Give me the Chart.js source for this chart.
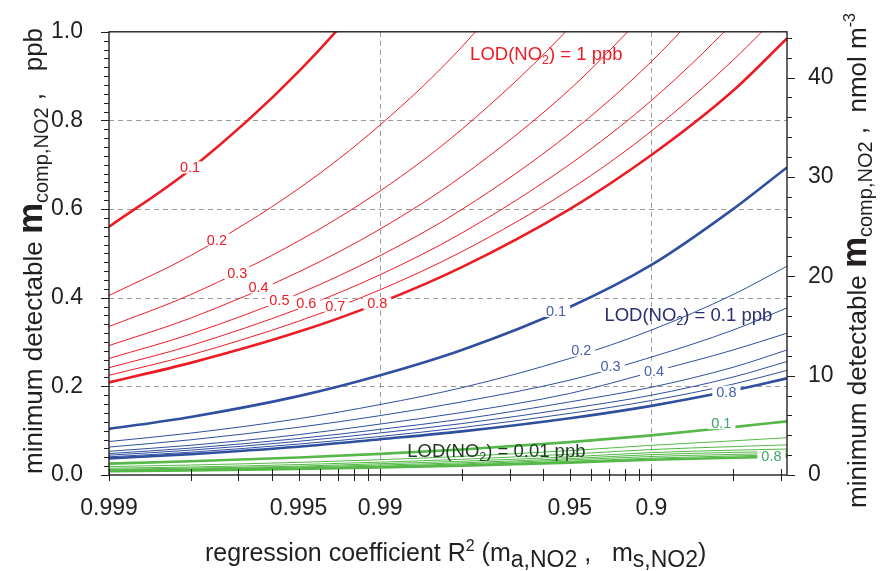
<!DOCTYPE html>
<html>
<head>
<meta charset="utf-8">
<script src="https://cdn.jsdelivr.net/npm/chart.js@4.4.1/dist/chart.umd.min.js"></script>
<style>
  html, body { margin: 0; padding: 0; background: #fff; }
  #wrap { width: 880px; height: 571px; }
</style>
</head>
<body>
<div id="wrap"><canvas id="lodChart" width="880" height="571"></canvas></div>
<script>
const r2Values = [0.999, 0.998, 0.995, 0.99, 0.98, 0.95, 0.9, 0.8, 0.684];
const curveParams = ['0.1', '0.2', '0.3', '0.4', '0.5', '0.6', '0.7', '0.8'];

// minimum detectable m_comp,NO2 in ppb, one row per curve parameter
const lod1ppb = [
  [0.56, 0.69, 0.91, 1.12, 1.38, null, null, null, null],
  [0.405, 0.495, 0.646, 0.79, 0.966, 1.26, null, null, null],
  [0.335, 0.407, 0.528, 0.641, 0.78, 1.01, 1.227, null, null],
  [0.292, 0.354, 0.458, 0.555, 0.674, 0.87, 1.055, null, null],
  [0.263, 0.318, 0.409, 0.495, 0.599, 0.771, 0.933, 1.129, null],
  [0.242, 0.292, 0.375, 0.452, 0.546, 0.701, 0.845, 1.02, 1.154],
  [0.225, 0.271, 0.347, 0.418, 0.504, 0.644, 0.776, 0.936, 1.058],
  [0.209, 0.253, 0.323, 0.389, 0.469, 0.60, 0.722, 0.867, 0.985]
];
const lod01ppb = [
  [0.104, 0.131, 0.178, 0.225, 0.282, 0.379, 0.474, 0.60, 0.694],
  [0.0755, 0.0945, 0.127, 0.159, 0.197, 0.263, 0.327, 0.407, 0.471],
  [0.063, 0.0794, 0.1077, 0.134, 0.165, 0.214, 0.266, 0.327, 0.377],
  [0.0535, 0.0671, 0.091, 0.115, 0.141, 0.184, 0.232, 0.282, 0.320],
  [0.0484, 0.0607, 0.0823, 0.103, 0.126, 0.165, 0.198, 0.243, 0.282],
  [0.0447, 0.0561, 0.076, 0.095, 0.116, 0.150, 0.18, 0.221, 0.256],
  [0.041, 0.0515, 0.0698, 0.087, 0.107, 0.139, 0.168, 0.205, 0.236],
  [0.0374, 0.047, 0.0636, 0.0806, 0.0984, 0.128, 0.156, 0.191, 0.218]
];
const lod001ppb = [
  [0.0257, 0.0309, 0.0396, 0.0477, 0.0576, 0.0741, 0.0894, 0.108, 0.121],
  [0.019, 0.0225, 0.0285, 0.0345, 0.042, 0.055, 0.067, 0.077, 0.0842],
  [0.0152, 0.018, 0.0235, 0.029, 0.0355, 0.047, 0.0575, 0.064, 0.068],
  [0.0128, 0.0155, 0.020, 0.0255, 0.031, 0.041, 0.0505, 0.056, 0.0586],
  [0.0112, 0.0137, 0.018, 0.0225, 0.0275, 0.037, 0.046, 0.051, 0.0535],
  [0.010, 0.0123, 0.0163, 0.020, 0.025, 0.034, 0.0418, 0.0465, 0.049],
  [0.0092, 0.0113, 0.015, 0.0185, 0.023, 0.031, 0.038, 0.043, 0.046],
  [0.0085, 0.0104, 0.0138, 0.0168, 0.021, 0.028, 0.0344, 0.039, 0.0418]
];

// axis ticks
const xTickR2 = [0.999, 0.998, 0.997, 0.996, 0.995, 0.994, 0.993, 0.992, 0.991,
  0.99, 0.98, 0.97, 0.96, 0.95, 0.94, 0.93, 0.92, 0.91, 0.9, 0.8, 0.7];
const xLabelR2 = [0.999, 0.995, 0.99, 0.95, 0.9];
const xGridR2 = [0.99, 0.9];
const yGridPpb = [0.2, 0.4, 0.6, 0.8];
const y2Labels = [0, 10, 20, 30, 40];
const ppbToNmol = 44.6;   // 1 ppb NO2 in nmol m-3

const RED = '#ed1c24', BLUE = '#2f4f9f', GREEN = '#55b848';

// small contour labels: [text, R², ppb, colour]
const curveLabels = [
  ['0.1', 0.99801, 0.694, RED], ['0.2', 0.9975, 0.531, RED], ['0.3', 0.99703, 0.456, RED],
  ['0.4', 0.99644, 0.4235, RED], ['0.5', 0.99575, 0.395, RED], ['0.6', 0.99466, 0.388, RED],
  ['0.7', 0.99317, 0.382, RED], ['0.8', 0.99025, 0.387, RED],
  ['0.1', 0.9555, 0.370, '#4861ac'], ['0.2', 0.9449, 0.281, '#4861ac'], ['0.3', 0.9293, 0.246, '#4861ac'],
  ['0.4', 0.8977, 0.2345, '#4861ac'], ['0.8', 0.811, 0.188, '#4861ac'],
  ['0.1', 0.819, 0.117, '#3ea66c'], ['0.8', 0.723, 0.0418, '#3ea66c']
];
// family labels: [value text, R², ppb at baseline, colour]
const familyLabels = [
  ['1', 0.97855, 0.9356, RED],
  ['0.1', 0.9329, 0.347, '#2b2e70'],
  ['0.01', 0.98741, 0.0402, '#1f3a22']
];

function family(rows, color) {
  return rows.map((row, i) => ({
    label: curveParams[i],
    data: row.map((v, j) => ({ x: 1 - r2Values[j], y: v })),
    borderColor: color,
    borderWidth: (i === 0 || i === rows.length - 1) ? 2.6 : 1,
    pointRadius: 0,
    cubicInterpolationMode: 'monotone',
    spanGaps: false
  }));
}

const FONT = "'Liberation Sans', Arial, sans-serif";
function f(size, bold) { return (bold ? 'bold ' : '') + size + 'px ' + FONT; }

function drawRich(ctx, segs, x, y, rot, color) {
  ctx.save();
  ctx.translate(x, y);
  if (rot) ctx.rotate(rot);
  ctx.textBaseline = 'alphabetic';
  ctx.textAlign = 'left';
  let cx = 0;
  segs.forEach(s => {
    ctx.font = s.f;
    ctx.fillStyle = color;
    ctx.fillText(s.t, cx, s.dy || 0);
    cx += ctx.measureText(s.t).width;
  });
  ctx.restore();
}

const decorPlugin = {
  id: 'decor',
  beforeDatasetsDraw(chart) {
    const { ctx, chartArea: a, scales: { x, y } } = chart;
    ctx.save();
    ctx.strokeStyle = '#9a9a9a';
    ctx.lineWidth = 1;
    ctx.setLineDash([5, 4]);
    xGridR2.forEach(r => {
      const px = Math.round(x.getPixelForValue(1 - r)) + 0.5;
      ctx.beginPath(); ctx.moveTo(px, a.top); ctx.lineTo(px, a.bottom); ctx.stroke();
    });
    yGridPpb.forEach(v => {
      const py = Math.round(y.getPixelForValue(v)) + 0.5;
      ctx.beginPath(); ctx.moveTo(a.left, py); ctx.lineTo(a.right, py); ctx.stroke();
    });
    ctx.restore();
  },
  afterDatasetsDraw(chart) {
    const { ctx, chartArea: a, scales: { x, y, y2 } } = chart;
    ctx.save();
    // contour labels with a white gap in the line
    ctx.font = f(14.5);
    ctx.textAlign = 'center';
    ctx.textBaseline = 'middle';
    curveLabels.forEach(([t, r, v, c]) => {
      const px = x.getPixelForValue(1 - r), py = y.getPixelForValue(v);
      const w = ctx.measureText(t).width;
      ctx.fillStyle = '#fff';
      ctx.fillRect(px - w / 2 - 4, py - 6, w + 8, 12);
      ctx.fillStyle = c;
      ctx.fillText(t, px, py + 1);
    });
    familyLabels.forEach(([val, r, v, c]) => {
      drawRich(ctx, [
        { t: 'LOD(NO', f: f(18.5) },
        { t: '2', f: f(12.5), dy: 4 },
        { t: ') = ' + val + ' ppb', f: f(18.5) }
      ], x.getPixelForValue(1 - r), y.getPixelForValue(v), 0, c);
    });

    // frame
    ctx.strokeStyle = '#231f20';
    ctx.lineWidth = 1.4;
    ctx.setLineDash([]);
    ctx.strokeRect(a.left, a.top, a.right - a.left, a.bottom - a.top);

    // tick marks
    ctx.lineWidth = 1;
    ctx.beginPath();
    xTickR2.forEach(r => {
      const px = Math.round(x.getPixelForValue(1 - r)) + 0.5;
      ctx.moveTo(px, a.bottom - 6); ctx.lineTo(px, a.bottom + 6);
    });
    for (let i = 0; i <= 50; i++) {
      const py = Math.round(y.getPixelForValue(i * 0.02)) + 0.5;
      const len = i % 10 === 0 ? 8 : 5;
      ctx.moveTo(a.left - len, py); ctx.lineTo(a.left, py);
    }
    for (let i = 0; i <= 22; i++) {
      const py = Math.round(y2.getPixelForValue(i * 2)) + 0.5;
      const len = i % 5 === 0 ? 8 : 5;
      ctx.moveTo(a.right, py); ctx.lineTo(a.right + len, py);
    }
    ctx.stroke();
    ctx.restore();
  },
  afterDraw(chart) {
    const { ctx } = chart;
    const ink = '#231f20';
    // x title
    drawRich(ctx, [
      { t: 'regression coefficient R', f: f(25) },
      { t: '2', f: f(16), dy: -10 },
      { t: ' (m', f: f(25) },
      { t: 'a,NO2', f: f(23), dy: 6 },
      { t: ' ,   m', f: f(25) },
      { t: 's,NO2', f: f(23), dy: 6 },
      { t: ')', f: f(25) }
    ], 205, 561, 0, ink);
    // left title
    drawRich(ctx, [
      { t: 'minimum detectable ', f: f(26) },
      { t: 'm', f: f(35, true) },
      { t: 'comp,NO2', f: f(20), dy: 6 },
      { t: ' ,   ppb', f: f(26) }
    ], 42, 474, -Math.PI / 2, ink);
    // right title
    drawRich(ctx, [
      { t: 'minimum detectable ', f: f(26) },
      { t: 'm', f: f(35, true) },
      { t: 'comp,NO2', f: f(20), dy: 6 },
      { t: ' ,  nmol m', f: f(26) },
      { t: '-3', f: f(16), dy: -11 }
    ], 866, 508, -Math.PI / 2, ink);
  }
};

const datasets = [
  ...family(lod1ppb, RED),
  ...family(lod01ppb, BLUE),
  ...family(lod001ppb, GREEN)
];

new Chart(document.getElementById('lodChart'), {
  type: 'line',
  data: { datasets },
  options: {
    responsive: false,
    devicePixelRatio: 1,
    animation: false,
    layout: { padding: { top: 20, left: 0, right: 0, bottom: 0 } },
    plugins: { legend: { display: false }, tooltip: { enabled: false } },
    scales: {
      x: {
        type: 'logarithmic',
        min: 0.001,
        max: 0.3162,
        grid: { display: false },
        border: { display: false },
        afterBuildTicks: s => { s.ticks = xLabelR2.map(r => ({ value: 1 - r })); },
        afterFit: s => { s.height = 96; },
        ticks: {
          autoSkip: false, maxRotation: 0, padding: 12,
          color: '#231f20', font: { family: FONT, size: 23 },
          callback: v => String(parseFloat((1 - v).toFixed(3)))
        }
      },
      y: {
        type: 'linear',
        position: 'left',
        min: 0, max: 1,
        grid: { display: false },
        border: { display: false },
        afterFit: s => { s.width = 109; },
        ticks: {
          stepSize: 0.2, padding: 18,
          color: '#231f20', font: { family: FONT, size: 23 },
          callback: v => v.toFixed(1)
        }
      },
      y2: {
        type: 'linear',
        position: 'right',
        min: 0, max: ppbToNmol,
        grid: { display: false },
        border: { display: false },
        afterBuildTicks: s => { s.ticks = y2Labels.map(v => ({ value: v })); },
        afterFit: s => { s.width = 93; },
        ticks: {
          autoSkip: false, padding: 13,
          color: '#231f20', font: { family: FONT, size: 23 }
        }
      }
    }
  },
  plugins: [decorPlugin]
});
</script>
</body>
</html>
